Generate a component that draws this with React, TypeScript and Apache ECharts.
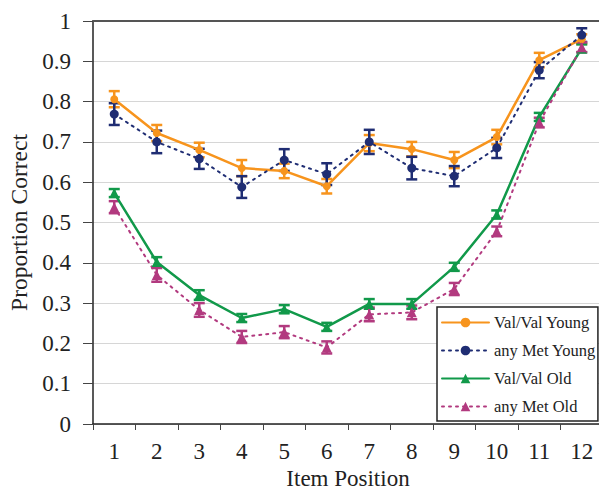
import React, { useEffect, useRef } from "react";
import * as echarts from "echarts";

const categories = ["1", "2", "3", "4", "5", "6", "7", "8", "9", "10", "11", "12"];
const yTicks = [0, 0.1, 0.2, 0.3, 0.4, 0.5, 0.6, 0.7, 0.8, 0.9, 1];

const valYoung = [0.806, 0.722, 0.68, 0.635, 0.628, 0.59, 0.697, 0.682, 0.655, 0.712, 0.903, 0.955];
const metYoung = [0.769, 0.7, 0.658, 0.588, 0.655, 0.62, 0.7, 0.635, 0.615, 0.685, 0.878, 0.965];
const valOld = [0.573, 0.402, 0.32, 0.263, 0.285, 0.241, 0.298, 0.298, 0.39, 0.52, 0.762, 0.932];
const metOld = [0.538, 0.37, 0.283, 0.216, 0.228, 0.19, 0.272, 0.277, 0.335, 0.478, 0.748, 0.935];

const valYoungErr = [0.02, 0.02, 0.018, 0.02, 0.018, 0.018, 0.02, 0.018, 0.02, 0.018, 0.018, 0.012];
const metYoungErr = [0.027, 0.028, 0.025, 0.027, 0.027, 0.027, 0.03, 0.028, 0.025, 0.025, 0.02, 0.017];
const valOldErr = [0.01, 0.012, 0.012, 0.01, 0.01, 0.01, 0.012, 0.012, 0.01, 0.01, 0.01, 0.01];
const metOldErr = [0.015, 0.017, 0.017, 0.015, 0.015, 0.015, 0.017, 0.017, 0.015, 0.012, 0.012, 0.012];

const names = ["Val/Val Young", "any Met Young", "Val/Val Old", "any Met Old"];
const colors = ["#F7941D", "#1F2D73", "#11994A", "#B23A7F"];

const FONT = "Liberation Serif";

function errSeries(values: number[], errs: number[], color: string) {
  return {
    type: "custom",
    silent: true,
    z: 3,
    data: values.map((v, i) => [i, v - errs[i], v + errs[i]]),
    renderItem: (params: any, api: any) => {
      const x = api.value(0);
      const lo = api.coord([x, api.value(1)]);
      const hi = api.coord([x, api.value(2)]);
      const w = 5.5;
      const style = { stroke: color, lineWidth: 2.5 };
      return {
        type: "group",
        children: [
          { type: "line", shape: { x1: lo[0], y1: lo[1], x2: hi[0], y2: hi[1] }, style },
          { type: "line", shape: { x1: lo[0] - w, y1: lo[1], x2: lo[0] + w, y2: lo[1] }, style },
          { type: "line", shape: { x1: hi[0] - w, y1: hi[1], x2: hi[0] + w, y2: hi[1] }, style },
        ],
      };
    },
  };
}

export default function App() {
  const ref = useRef<HTMLDivElement>(null);
  useEffect(() => {
    if (!ref.current) return;
    const chart = echarts.init(ref.current, undefined, { renderer: "svg" });
    const lineSeries = [
      { name: names[0], data: valYoung, symbol: "circle", symbolSize: 8, type: "solid", width: 2.5 },
      { name: names[1], data: metYoung, symbol: "circle", symbolSize: 9, type: [2, 5], width: 2 },
      { name: names[2], data: valOld, symbol: "triangle", symbolSize: 10, type: "solid", width: 2.5 },
      { name: names[3], data: metOld, symbol: "triangle", symbolSize: 10, type: [2, 5], width: 2 },
    ].map((s, i) => ({
      type: "line",
      name: s.name,
      data: s.data,
      symbol: s.symbol,
      symbolSize: s.symbolSize,
      showSymbol: true,
      z: 4,
      itemStyle: { color: colors[i] },
      lineStyle: { color: colors[i], width: s.width, type: s.type as any, cap: "round" },
    }));
    chart.setOption({
      animation: false,
      backgroundColor: "#ffffff",
      grid: { left: 93, top: 21, width: 510, height: 403, outerBoundsMode: "none", containLabel: false },
      legend: {
        orient: "vertical",
        left: 437,
        top: 307,
        data: names,
        itemWidth: 47,
        itemHeight: 12,
        itemGap: 11,
        padding: [7, 2, 6, 4],
        borderColor: "#222",
        borderWidth: 1.5,
        backgroundColor: "#fff",
        textStyle: { fontFamily: FONT, fontSize: 16.5, color: "#222" },
      },
      xAxis: [
        {
          type: "category",
          data: categories,
          boundaryGap: true,
          axisLine: { lineStyle: { color: "#222", width: 1.5 } },
          axisTick: { show: true, inside: false, length: 6, lineStyle: { color: "#444" } },
          axisLabel: { fontFamily: FONT, fontSize: 23, color: "#222", margin: 16 },
          name: "Item Position",
          nameLocation: "middle",
          nameGap: 42,
          nameMoveOverlap: false,
          nameTextStyle: { fontFamily: FONT, fontSize: 23, lineHeight: 24, color: "#222" },
        },
        {
          type: "category",
          data: categories,
          position: "top",
          axisLine: { show: true, lineStyle: { color: "#555", width: 2 } },
          axisTick: { show: false },
          axisLabel: { show: false },
        },
      ],
      yAxis: {
        type: "value",
        min: yTicks[0],
        max: yTicks[yTicks.length - 1],
        interval: 0.1,
        axisLine: { show: true, lineStyle: { color: "#222", width: 1.5 } },
        axisTick: { show: true, inside: false, length: 10, lineStyle: { color: "#444" } },
        axisLabel: {
          fontFamily: FONT,
          fontSize: 23,
          color: "#222",
          margin: 22,
          formatter: (v: number) => (Math.abs(v - 1) < 1e-9 ? "1" : Math.abs(v) < 1e-9 ? "0" : v.toFixed(1)),
        },
        splitLine: { show: true, lineStyle: { color: "#d6d6d6", width: 1.2 } },
        name: "Proportion Correct",
        nameLocation: "middle",
        nameGap: 57,
        nameTextStyle: { fontFamily: FONT, fontSize: 23.5, color: "#222" },
      },
      series: [
        errSeries(valYoung, valYoungErr, colors[0]),
        errSeries(metYoung, metYoungErr, colors[1]),
        errSeries(valOld, valOldErr, colors[2]),
        errSeries(metOld, metOldErr, colors[3]),
        ...lineSeries,
      ],
    });
    return () => chart.dispose();
  }, []);
  return (
    <div
      ref={ref}
      style={{ position: "fixed", left: 0, top: 0, width: 599, height: 492, background: "#fff" }}
    />
  );
}
